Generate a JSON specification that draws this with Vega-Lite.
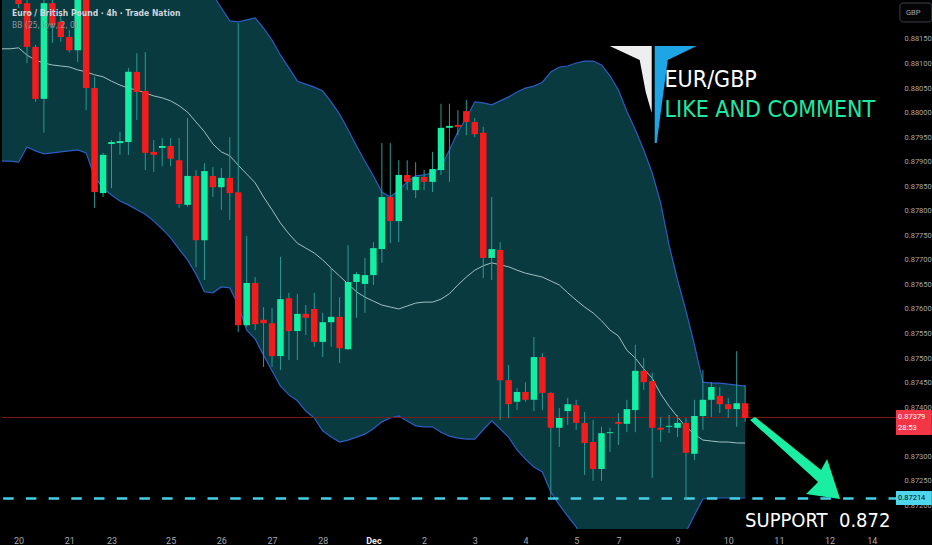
{
  "$schema": "https://vega.github.io/schema/vega-lite/v6.json",
  "width": 897,
  "height": 529,
  "padding": 0,
  "autosize": {"type": "pad"},
  "background": "#000000",
  "config": {
    "view": {"stroke": null},
    "font": "Roboto",
    "axisY": {
      "tickCount": 22, "format": ".5f", "labelFont": "Roboto", "labelFontSize": 7.5, "labelPadding": 5,
      "labelColor": "#a3a6af", "labelBaseline": "middle", "labelFlush": false, "labelOverlap": false,
      "grid": false, "ticks": false, "domain": false, "title": null
    },
    "axisX": {
      "labelFont": "Roboto", "labelFontSize": 9, "labelPadding": 7, "labelFlush": false, "labelOverlap": false,
      "grid": false, "ticks": false, "domain": false, "title": null
    }
  },
  "datasets": {
    "candles": [
      {"i": -2, "upper": 0.88372, "middle": 0.8813, "lower": 0.87901},
      {"i": -1, "upper": 0.88372, "middle": 0.8813, "lower": 0.87901},
      {"i": 0, "open": 0.8824, "high": 0.8825, "low": 0.88213, "close": 0.88221, "upper": 0.88372, "middle": 0.88132, "lower": 0.87899},
      {"i": 1, "open": 0.88223, "high": 0.8824, "low": 0.88101, "close": 0.88134, "upper": 0.88368, "middle": 0.88117, "lower": 0.8793},
      {"i": 2, "open": 0.88134, "high": 0.88138, "low": 0.88022, "close": 0.88028, "upper": 0.88364, "middle": 0.88107, "lower": 0.87922},
      {"i": 3, "open": 0.88028, "high": 0.8824, "low": 0.87959, "close": 0.88223, "upper": 0.8836, "middle": 0.88101, "lower": 0.87916},
      {"i": 4, "open": 0.88223, "high": 0.8824, "low": 0.88142, "close": 0.88178, "upper": 0.88356, "middle": 0.88097, "lower": 0.87918},
      {"i": 5, "open": 0.88185, "high": 0.88199, "low": 0.88144, "close": 0.88154, "upper": 0.88352, "middle": 0.88095, "lower": 0.8792},
      {"i": 6, "open": 0.88154, "high": 0.88168, "low": 0.88123, "close": 0.88127, "upper": 0.88348, "middle": 0.88093, "lower": 0.87922},
      {"i": 7, "open": 0.88127, "high": 0.8825, "low": 0.88103, "close": 0.8824, "upper": 0.88344, "middle": 0.88087, "lower": 0.87924},
      {"i": 8, "open": 0.8824, "high": 0.8825, "low": 0.88005, "close": 0.8805, "upper": 0.88339, "middle": 0.88083, "lower": 0.87918},
      {"i": 9, "open": 0.8805, "high": 0.88073, "low": 0.87806, "close": 0.87838, "upper": 0.88335, "middle": 0.88077, "lower": 0.87869},
      {"i": 10, "open": 0.87836, "high": 0.87918, "low": 0.87828, "close": 0.87914, "upper": 0.88331, "middle": 0.88073, "lower": 0.87846},
      {"i": 11, "open": 0.87936, "high": 0.87944, "low": 0.87846, "close": 0.8794, "upper": 0.88327, "middle": 0.88064, "lower": 0.87832},
      {"i": 12, "open": 0.87938, "high": 0.87961, "low": 0.87914, "close": 0.87942, "upper": 0.88323, "middle": 0.88056, "lower": 0.8782},
      {"i": 13, "open": 0.8794, "high": 0.88091, "low": 0.87914, "close": 0.88083, "upper": 0.88319, "middle": 0.8805, "lower": 0.87812},
      {"i": 14, "open": 0.88083, "high": 0.88121, "low": 0.87985, "close": 0.88042, "upper": 0.88315, "middle": 0.88046, "lower": 0.87802},
      {"i": 15, "open": 0.88044, "high": 0.88123, "low": 0.87883, "close": 0.87918, "upper": 0.88311, "middle": 0.8804, "lower": 0.87793},
      {"i": 16, "open": 0.8792, "high": 0.87944, "low": 0.87879, "close": 0.87914, "upper": 0.88307, "middle": 0.88034, "lower": 0.87779},
      {"i": 17, "open": 0.87928, "high": 0.87948, "low": 0.87891, "close": 0.87932, "upper": 0.88301, "middle": 0.8803, "lower": 0.87763},
      {"i": 18, "open": 0.87932, "high": 0.87948, "low": 0.87891, "close": 0.87906, "upper": 0.88295, "middle": 0.88024, "lower": 0.87745},
      {"i": 19, "open": 0.87903, "high": 0.87948, "low": 0.87806, "close": 0.87814, "upper": 0.88286, "middle": 0.88014, "lower": 0.87722},
      {"i": 20, "open": 0.87812, "high": 0.87989, "low": 0.87808, "close": 0.87871, "upper": 0.88278, "middle": 0.88001, "lower": 0.877},
      {"i": 21, "open": 0.87871, "high": 0.87883, "low": 0.87685, "close": 0.8774, "upper": 0.88266, "middle": 0.87981, "lower": 0.87671},
      {"i": 22, "open": 0.8774, "high": 0.87897, "low": 0.87659, "close": 0.87881, "upper": 0.88254, "middle": 0.87961, "lower": 0.87635},
      {"i": 23, "open": 0.87871, "high": 0.87889, "low": 0.87828, "close": 0.87848, "upper": 0.8824, "middle": 0.87936, "lower": 0.87633},
      {"i": 24, "open": 0.87848, "high": 0.87887, "low": 0.87802, "close": 0.87867, "upper": 0.88213, "middle": 0.8792, "lower": 0.87645},
      {"i": 25, "open": 0.87867, "high": 0.8795, "low": 0.87781, "close": 0.87836, "upper": 0.88187, "middle": 0.87912, "lower": 0.87643},
      {"i": 26, "open": 0.87838, "high": 0.88182, "low": 0.87553, "close": 0.87567, "upper": 0.88185, "middle": 0.87893, "lower": 0.87608},
      {"i": 27, "open": 0.87567, "high": 0.87749, "low": 0.87563, "close": 0.87653, "upper": 0.88189, "middle": 0.87875, "lower": 0.87557},
      {"i": 28, "open": 0.87653, "high": 0.87665, "low": 0.87557, "close": 0.87569, "upper": 0.88193, "middle": 0.87857, "lower": 0.87539},
      {"i": 29, "open": 0.87578, "high": 0.87604, "low": 0.87482, "close": 0.87571, "upper": 0.88172, "middle": 0.87828, "lower": 0.87506},
      {"i": 30, "open": 0.87571, "high": 0.87602, "low": 0.87482, "close": 0.87504, "upper": 0.88148, "middle": 0.87802, "lower": 0.87474},
      {"i": 31, "open": 0.87504, "high": 0.87706, "low": 0.87476, "close": 0.8762, "upper": 0.88117, "middle": 0.87775, "lower": 0.87443},
      {"i": 32, "open": 0.87622, "high": 0.87633, "low": 0.87496, "close": 0.87555, "upper": 0.88091, "middle": 0.87753, "lower": 0.87425},
      {"i": 33, "open": 0.87555, "high": 0.87631, "low": 0.87496, "close": 0.8759, "upper": 0.88064, "middle": 0.87734, "lower": 0.87413},
      {"i": 34, "open": 0.8759, "high": 0.87608, "low": 0.87547, "close": 0.87582, "upper": 0.88058, "middle": 0.87724, "lower": 0.87392},
      {"i": 35, "open": 0.876, "high": 0.87633, "low": 0.87523, "close": 0.87533, "upper": 0.88052, "middle": 0.87714, "lower": 0.87378},
      {"i": 36, "open": 0.87533, "high": 0.87592, "low": 0.87502, "close": 0.87573, "upper": 0.88044, "middle": 0.877, "lower": 0.87352},
      {"i": 37, "open": 0.87573, "high": 0.87683, "low": 0.87523, "close": 0.87584, "upper": 0.88022, "middle": 0.87683, "lower": 0.87339},
      {"i": 38, "open": 0.87584, "high": 0.87624, "low": 0.8749, "close": 0.8752, "upper": 0.87997, "middle": 0.87667, "lower": 0.87329},
      {"i": 39, "open": 0.87518, "high": 0.8773, "low": 0.87516, "close": 0.87655, "upper": 0.87965, "middle": 0.87651, "lower": 0.87333},
      {"i": 40, "open": 0.87655, "high": 0.87675, "low": 0.87582, "close": 0.87671, "upper": 0.87932, "middle": 0.87635, "lower": 0.87339},
      {"i": 41, "open": 0.87651, "high": 0.87704, "low": 0.87592, "close": 0.87669, "upper": 0.87901, "middle": 0.87624, "lower": 0.87345},
      {"i": 42, "open": 0.87669, "high": 0.87736, "low": 0.87649, "close": 0.87724, "upper": 0.87871, "middle": 0.87616, "lower": 0.87356},
      {"i": 43, "open": 0.87722, "high": 0.87938, "low": 0.87694, "close": 0.87828, "upper": 0.87838, "middle": 0.87608, "lower": 0.8737},
      {"i": 44, "open": 0.87828, "high": 0.87938, "low": 0.87734, "close": 0.87779, "upper": 0.87828, "middle": 0.87604, "lower": 0.87378},
      {"i": 45, "open": 0.87779, "high": 0.87903, "low": 0.87736, "close": 0.87873, "upper": 0.87842, "middle": 0.876, "lower": 0.87382},
      {"i": 46, "open": 0.87873, "high": 0.87903, "low": 0.87842, "close": 0.87859, "upper": 0.87859, "middle": 0.87606, "lower": 0.87372},
      {"i": 47, "open": 0.87842, "high": 0.87899, "low": 0.87826, "close": 0.87869, "upper": 0.87871, "middle": 0.87612, "lower": 0.87362},
      {"i": 48, "open": 0.87869, "high": 0.87883, "low": 0.87842, "close": 0.87859, "upper": 0.87873, "middle": 0.87614, "lower": 0.8736},
      {"i": 49, "open": 0.87859, "high": 0.8792, "low": 0.87838, "close": 0.87885, "upper": 0.87877, "middle": 0.87614, "lower": 0.8736},
      {"i": 50, "open": 0.87883, "high": 0.88018, "low": 0.87873, "close": 0.87969, "upper": 0.87889, "middle": 0.8762, "lower": 0.87349},
      {"i": 51, "open": 0.87969, "high": 0.88018, "low": 0.87859, "close": 0.87973, "upper": 0.87924, "middle": 0.87631, "lower": 0.87341},
      {"i": 52, "open": 0.87975, "high": 0.88005, "low": 0.87954, "close": 0.87971, "upper": 0.87961, "middle": 0.87649, "lower": 0.87337},
      {"i": 53, "open": 0.88003, "high": 0.88026, "low": 0.87954, "close": 0.87981, "upper": 0.87989, "middle": 0.87665, "lower": 0.87335},
      {"i": 54, "open": 0.87981, "high": 0.87989, "low": 0.8795, "close": 0.87956, "upper": 0.88022, "middle": 0.87679, "lower": 0.87335},
      {"i": 55, "open": 0.87959, "high": 0.87971, "low": 0.87663, "close": 0.87704, "upper": 0.8802, "middle": 0.87688, "lower": 0.87354},
      {"i": 56, "open": 0.87704, "high": 0.87828, "low": 0.87659, "close": 0.87722, "upper": 0.88016, "middle": 0.87694, "lower": 0.87372},
      {"i": 57, "open": 0.8772, "high": 0.87736, "low": 0.87374, "close": 0.87455, "upper": 0.88024, "middle": 0.8769, "lower": 0.87356},
      {"i": 58, "open": 0.87455, "high": 0.87486, "low": 0.87378, "close": 0.87406, "upper": 0.88032, "middle": 0.87686, "lower": 0.87339},
      {"i": 59, "open": 0.87411, "high": 0.87439, "low": 0.87394, "close": 0.87431, "upper": 0.88042, "middle": 0.87679, "lower": 0.87313},
      {"i": 60, "open": 0.87431, "high": 0.87451, "low": 0.87411, "close": 0.87415, "upper": 0.8805, "middle": 0.87673, "lower": 0.87294},
      {"i": 61, "open": 0.87415, "high": 0.87543, "low": 0.87392, "close": 0.87502, "upper": 0.88054, "middle": 0.87669, "lower": 0.87278},
      {"i": 62, "open": 0.87502, "high": 0.8751, "low": 0.87394, "close": 0.87429, "upper": 0.88062, "middle": 0.87665, "lower": 0.87268},
      {"i": 63, "open": 0.87429, "high": 0.87431, "low": 0.87215, "close": 0.87358, "upper": 0.88083, "middle": 0.87657, "lower": 0.87227},
      {"i": 64, "open": 0.87358, "high": 0.87398, "low": 0.87319, "close": 0.87378, "upper": 0.88093, "middle": 0.87649, "lower": 0.87201},
      {"i": 65, "open": 0.87392, "high": 0.87419, "low": 0.87364, "close": 0.87406, "upper": 0.88095, "middle": 0.87633, "lower": 0.87178},
      {"i": 66, "open": 0.87404, "high": 0.87415, "low": 0.87354, "close": 0.87368, "upper": 0.88101, "middle": 0.87618, "lower": 0.87156},
      {"i": 67, "open": 0.87368, "high": 0.8739, "low": 0.87262, "close": 0.87327, "upper": 0.88105, "middle": 0.87604, "lower": 0.87127},
      {"i": 68, "open": 0.87329, "high": 0.87374, "low": 0.8725, "close": 0.87274, "upper": 0.88105, "middle": 0.87592, "lower": 0.87105},
      {"i": 69, "open": 0.87274, "high": 0.8736, "low": 0.8725, "close": 0.87347, "upper": 0.88097, "middle": 0.87576, "lower": 0.87054},
      {"i": 70, "open": 0.87347, "high": 0.87358, "low": 0.87309, "close": 0.87349, "upper": 0.88075, "middle": 0.87557, "lower": 0.8704},
      {"i": 71, "open": 0.8737, "high": 0.87388, "low": 0.87323, "close": 0.87366, "upper": 0.88046, "middle": 0.87545, "lower": 0.87044},
      {"i": 72, "open": 0.87366, "high": 0.87415, "low": 0.87349, "close": 0.87396, "upper": 0.88003, "middle": 0.87516, "lower": 0.8703},
      {"i": 73, "open": 0.87394, "high": 0.87527, "low": 0.87349, "close": 0.87474, "upper": 0.87965, "middle": 0.875, "lower": 0.87036},
      {"i": 74, "open": 0.87474, "high": 0.875, "low": 0.87435, "close": 0.87451, "upper": 0.87924, "middle": 0.87478, "lower": 0.87036},
      {"i": 75, "open": 0.87453, "high": 0.8747, "low": 0.87256, "close": 0.87358, "upper": 0.87877, "middle": 0.87459, "lower": 0.87042},
      {"i": 76, "open": 0.87358, "high": 0.8738, "low": 0.87329, "close": 0.87354, "upper": 0.87816, "middle": 0.87427, "lower": 0.87038},
      {"i": 77, "open": 0.8736, "high": 0.87384, "low": 0.87347, "close": 0.87362, "upper": 0.8773, "middle": 0.87402, "lower": 0.87074},
      {"i": 78, "open": 0.87358, "high": 0.87384, "low": 0.87339, "close": 0.87368, "upper": 0.87659, "middle": 0.8738, "lower": 0.87101},
      {"i": 79, "open": 0.87368, "high": 0.87378, "low": 0.87211, "close": 0.87307, "upper": 0.87596, "middle": 0.8736, "lower": 0.87146},
      {"i": 80, "open": 0.87305, "high": 0.87415, "low": 0.87292, "close": 0.87382, "upper": 0.87527, "middle": 0.87345, "lower": 0.8718},
      {"i": 81, "open": 0.87382, "high": 0.87476, "low": 0.87354, "close": 0.87415, "upper": 0.87451, "middle": 0.87333, "lower": 0.87213},
      {"i": 82, "open": 0.87415, "high": 0.87451, "low": 0.8738, "close": 0.87441, "upper": 0.87449, "middle": 0.87331, "lower": 0.87215},
      {"i": 83, "open": 0.87423, "high": 0.87441, "low": 0.87388, "close": 0.87406, "upper": 0.87449, "middle": 0.87329, "lower": 0.87215},
      {"i": 84, "open": 0.87406, "high": 0.87419, "low": 0.87378, "close": 0.87396, "upper": 0.87447, "middle": 0.87329, "lower": 0.87215},
      {"i": 85, "open": 0.87396, "high": 0.87514, "low": 0.8736, "close": 0.87408, "upper": 0.87445, "middle": 0.87327, "lower": 0.87215},
      {"i": 86, "open": 0.87408, "high": 0.87445, "low": 0.8737, "close": 0.87378, "upper": 0.87443, "middle": 0.87327, "lower": 0.87215}
    ]
  },
  "layer": [
    {
      "data": {"name": "candles"},
      "mark": {"type": "area", "color": "#083a40", "opacity": 1, "clip": true, "orient": "vertical"},
      "encoding": {
        "x": {
          "field": "i", "type": "quantitative",
          "scale": {"domain": [-1.37, 103.62], "nice": false, "zero": false},
          "axis": {
            "title": null,
            "values": [0, 6, 11, 18, 24, 30, 36, 42, 48, 54, 60, 66, 71, 78, 84, 90, 96, 101],
            "labelExpr": "['20','21','23','25','26','27','28','Dec','2','3','4','5','7','9','10','11','12','14'][indexof([0,6,11,18,24,30,36,42,48,54,60,66,71,78,84,90,96,101], datum.value)]",
            "labelColor": {"condition": {"test": "datum.value === 42", "value": "#e8e9ec"}, "value": "#a3a6af"},
            "labelFontWeight": {"condition": {"test": "datum.value === 42", "value": "bold"}, "value": "normal"}
          }
        },
        "y": {
          "field": "upper", "type": "quantitative",
          "scale": {"domain": [0.871518, 0.882294], "nice": false, "zero": false},
          "axis": {"title": null, "orient": "right", "tickCount": 22, "format": ".5f"}
        },
        "y2": {"field": "lower"}
      }
    },
    {
      "data": {"name": "candles"},
      "mark": {"type": "line", "color": "#2d5cc2", "strokeWidth": 1.2, "clip": true},
      "encoding": {
        "x": {"field": "i", "type": "quantitative", "scale": {"domain": [-1.37, 103.62], "nice": false, "zero": false}},
        "y": {"field": "upper", "type": "quantitative", "scale": {"domain": [0.871518, 0.882294], "nice": false, "zero": false}}
      }
    },
    {
      "data": {"name": "candles"},
      "mark": {"type": "line", "color": "#2d5cc2", "strokeWidth": 1.2, "clip": true},
      "encoding": {
        "x": {"field": "i", "type": "quantitative", "scale": {"domain": [-1.37, 103.62], "nice": false, "zero": false}},
        "y": {"field": "lower", "type": "quantitative", "scale": {"domain": [0.871518, 0.882294], "nice": false, "zero": false}}
      }
    },
    {
      "data": {"name": "candles"},
      "mark": {"type": "line", "color": "#a3c0c0", "strokeWidth": 1, "clip": true},
      "encoding": {
        "x": {"field": "i", "type": "quantitative", "scale": {"domain": [-1.37, 103.62], "nice": false, "zero": false}},
        "y": {"field": "middle", "type": "quantitative", "scale": {"domain": [0.871518, 0.882294], "nice": false, "zero": false}}
      }
    },
    {
      "data": {"values": [{"p": 0.87379}]},
      "mark": {"type": "rule", "color": "#7d1b1b", "strokeWidth": 1},
      "encoding": {
        "y": {"field": "p", "type": "quantitative", "scale": {"domain": [0.871518, 0.882294], "nice": false, "zero": false}}
      }
    },
    {
      "data": {"values": [{"p": 0.87214}]},
      "mark": {"type": "rule", "color": "#45cfe6", "strokeWidth": 2.6, "strokeDash": [10.5, 12.2]},
      "encoding": {
        "y": {"field": "p", "type": "quantitative", "scale": {"domain": [0.871518, 0.882294], "nice": false, "zero": false}}
      }
    },
    {
      "data": {"name": "candles"},
      "transform": [{"filter": "isValid(datum.open)"}],
      "mark": {"type": "rule", "color": "#2c9a94", "strokeWidth": 1, "clip": true},
      "encoding": {
        "x": {"field": "i", "type": "quantitative", "scale": {"domain": [-1.37, 103.62], "nice": false, "zero": false}},
        "y": {"field": "low", "type": "quantitative", "scale": {"domain": [0.871518, 0.882294], "nice": false, "zero": false}},
        "y2": {"field": "high"}
      }
    },
    {
      "data": {"name": "candles"},
      "transform": [{"filter": "isValid(datum.open)"}],
      "mark": {"type": "bar", "width": 6.5, "orient": "vertical", "clip": true},
      "encoding": {
        "x": {"field": "i", "type": "quantitative", "scale": {"domain": [-1.37, 103.62], "nice": false, "zero": false}},
        "y": {"field": "open", "type": "quantitative", "scale": {"domain": [0.871518, 0.882294], "nice": false, "zero": false}},
        "y2": {"field": "close"},
        "color": {"condition": {"test": "datum.close >= datum.open", "value": "#12eea2"}, "value": "#f21c1c"}
      }
    },
    {
      "data": {"values": [{"i": 75.06, "p": 0.880379}]},
      "mark": {"type": "point", "shape": "M -0.86 -0.96 L -0.02 -0.96 L -0.02 0.38 L -0.14 -0.04 L -0.26 -0.68 Z", "size": 10000, "filled": true, "color": "#eeeeee", "opacity": 1, "strokeWidth": 0},
      "encoding": {
        "x": {"field": "i", "type": "quantitative", "scale": {"domain": [-1.37, 103.62], "nice": false, "zero": false}},
        "y": {"field": "p", "type": "quantitative", "scale": {"domain": [0.871518, 0.882294], "nice": false, "zero": false}}
      }
    },
    {
      "data": {"values": [{"i": 75.06, "p": 0.880379}]},
      "mark": {"type": "point", "shape": "M 0.04 -0.96 L 0.88 -0.96 L 0.30 -0.68 L 0.08 0.98 L 0.04 0.98 Z", "size": 10000, "filled": true, "color": "#1ea5e6", "opacity": 1, "strokeWidth": 0},
      "encoding": {
        "x": {"field": "i", "type": "quantitative", "scale": {"domain": [-1.37, 103.62], "nice": false, "zero": false}},
        "y": {"field": "p", "type": "quantitative", "scale": {"domain": [0.871518, 0.882294], "nice": false, "zero": false}}
      }
    },
    {
      "data": {"values": [{"i": 91.91, "p": 0.872965}]},
      "mark": {"type": "point", "shape": "M -0.80 -0.82 L 0.52 0.24 L 0.64 0.02 L 0.90 0.82 L 0.22 0.72 L 0.46 0.48 L -0.90 -0.76 Z", "size": 10000, "filled": true, "color": "#19eea3", "opacity": 1, "strokeWidth": 0},
      "encoding": {
        "x": {"field": "i", "type": "quantitative", "scale": {"domain": [-1.37, 103.62], "nice": false, "zero": false}},
        "y": {"field": "p", "type": "quantitative", "scale": {"domain": [0.871518, 0.882294], "nice": false, "zero": false}}
      }
    },
    {
      "data": {"values": [{"i": 76.46, "p": 0.880522, "label": "EUR/GBP"}]},
      "mark": {"type": "text", "align": "left", "baseline": "alphabetic", "font": "DejaVu Sans Condensed, sans-serif", "fontSize": 23, "color": "#ffffff"},
      "encoding": {
        "x": {"field": "i", "type": "quantitative", "scale": {"domain": [-1.37, 103.62], "nice": false, "zero": false}},
        "y": {"field": "p", "type": "quantitative", "scale": {"domain": [0.871518, 0.882294], "nice": false, "zero": false}},
        "text": {"field": "label"}
      }
    },
    {
      "data": {"values": [{"i": 76.46, "p": 0.879911, "label": "LIKE AND COMMENT"}]},
      "mark": {"type": "text", "align": "left", "baseline": "alphabetic", "font": "DejaVu Sans Condensed, sans-serif", "fontSize": 23, "color": "#1fe8a2"},
      "encoding": {
        "x": {"field": "i", "type": "quantitative", "scale": {"domain": [-1.37, 103.62], "nice": false, "zero": false}},
        "y": {"field": "p", "type": "quantitative", "scale": {"domain": [0.871518, 0.882294], "nice": false, "zero": false}},
        "text": {"field": "label"}
      }
    },
    {
      "data": {"values": [{"i": 103.2, "p": 0.871559, "label": "SUPPORT\u00a0\u00a00.872"}]},
      "mark": {"type": "text", "align": "right", "baseline": "alphabetic", "font": "DejaVu Sans Condensed, sans-serif", "fontSize": 20, "color": "#ffffff"},
      "encoding": {
        "x": {"field": "i", "type": "quantitative", "scale": {"domain": [-1.37, 103.62], "nice": false, "zero": false}},
        "y": {"field": "p", "type": "quantitative", "scale": {"domain": [0.871518, 0.882294], "nice": false, "zero": false}},
        "text": {"field": "label"}
      }
    },
    {
      "data": {"values": [{"i": -0.78, "p": 0.882039, "label": "Euro / British Pound · 4h · Trade Nation"}]},
      "mark": {"type": "text", "align": "left", "baseline": "middle", "font": "DejaVu Sans Condensed, sans-serif", "fontSize": 8.5, "fontWeight": "bold", "color": "#d1d4dc"},
      "encoding": {
        "x": {"field": "i", "type": "quantitative", "scale": {"domain": [-1.37, 103.62], "nice": false, "zero": false}},
        "y": {"field": "p", "type": "quantitative", "scale": {"domain": [0.871518, 0.882294], "nice": false, "zero": false}},
        "text": {"field": "label"}
      }
    },
    {
      "data": {"values": [{"i": -0.78, "p": 0.881775, "label": "BB (25, low, 2, 0)"}]},
      "mark": {"type": "text", "align": "left", "baseline": "middle", "font": "DejaVu Sans Condensed, sans-serif", "fontSize": 8.5, "color": "#8f939c"},
      "encoding": {
        "x": {"field": "i", "type": "quantitative", "scale": {"domain": [-1.37, 103.62], "nice": false, "zero": false}},
        "y": {"field": "p", "type": "quantitative", "scale": {"domain": [0.871518, 0.882294], "nice": false, "zero": false}},
        "text": {"field": "label"}
      }
    },
    {
      "data": {"values": [{"i": 103.85, "i2": 108.1, "p": 0.873942, "p2": 0.873433}]},
      "mark": {"type": "rect", "color": "#f23645", "clip": false},
      "encoding": {
        "x": {"field": "i", "type": "quantitative", "scale": {"domain": [-1.37, 103.62], "nice": false, "zero": false}},
        "x2": {"field": "i2"},
        "y": {"field": "p", "type": "quantitative", "scale": {"domain": [0.871518, 0.882294], "nice": false, "zero": false}},
        "y2": {"field": "p2"}
      }
    },
    {
      "data": {"values": [{"i": 103.85, "i2": 108.1, "p": 0.872292, "p2": 0.872007}]},
      "mark": {"type": "rect", "color": "#4dd6ec", "clip": false},
      "encoding": {
        "x": {"field": "i", "type": "quantitative", "scale": {"domain": [-1.37, 103.62], "nice": false, "zero": false}},
        "x2": {"field": "i2"},
        "y": {"field": "p", "type": "quantitative", "scale": {"domain": [0.871518, 0.882294], "nice": false, "zero": false}},
        "y2": {"field": "p2"}
      }
    },
    {
      "data": {"values": [{"i": 104.32, "i2": 108.1, "p": 0.882233, "p2": 0.881846}]},
      "mark": {"type": "rect", "fill": "#050505", "stroke": "#3b3e46", "strokeWidth": 1, "cornerRadius": 3, "clip": false},
      "encoding": {
        "x": {"field": "i", "type": "quantitative", "scale": {"domain": [-1.37, 103.62], "nice": false, "zero": false}},
        "x2": {"field": "i2"},
        "y": {"field": "p", "type": "quantitative", "scale": {"domain": [0.871518, 0.882294], "nice": false, "zero": false}},
        "y2": {"field": "p2"}
      }
    },
    {
      "data": {"values": [
        {"i": 104.1, "p": 0.8738, "label": "0.87379"},
        {"i": 104.1, "p": 0.873576, "label": "28:53"}
      ]},
      "mark": {"type": "text", "align": "left", "baseline": "middle", "font": "Roboto", "fontSize": 7.5, "color": "#ffffff"},
      "encoding": {
        "x": {"field": "i", "type": "quantitative", "scale": {"domain": [-1.37, 103.62], "nice": false, "zero": false}},
        "y": {"field": "p", "type": "quantitative", "scale": {"domain": [0.871518, 0.882294], "nice": false, "zero": false}},
        "text": {"field": "label"}
      }
    },
    {
      "data": {"values": [{"i": 104.1, "p": 0.87215, "label": "0.87214"}]},
      "mark": {"type": "text", "align": "left", "baseline": "middle", "font": "Roboto", "fontSize": 7.5, "color": "#0b0b0b"},
      "encoding": {
        "x": {"field": "i", "type": "quantitative", "scale": {"domain": [-1.37, 103.62], "nice": false, "zero": false}},
        "y": {"field": "p", "type": "quantitative", "scale": {"domain": [0.871518, 0.882294], "nice": false, "zero": false}},
        "text": {"field": "label"}
      }
    },
    {
      "data": {"values": [{"i": 105.9, "p": 0.882039, "label": "GBP"}]},
      "mark": {"type": "text", "align": "center", "baseline": "middle", "font": "Roboto", "fontSize": 7.5, "color": "#a3a6af"},
      "encoding": {
        "x": {"field": "i", "type": "quantitative", "scale": {"domain": [-1.37, 103.62], "nice": false, "zero": false}},
        "y": {"field": "p", "type": "quantitative", "scale": {"domain": [0.871518, 0.882294], "nice": false, "zero": false}},
        "text": {"field": "label"}
      }
    }
  ]
}
